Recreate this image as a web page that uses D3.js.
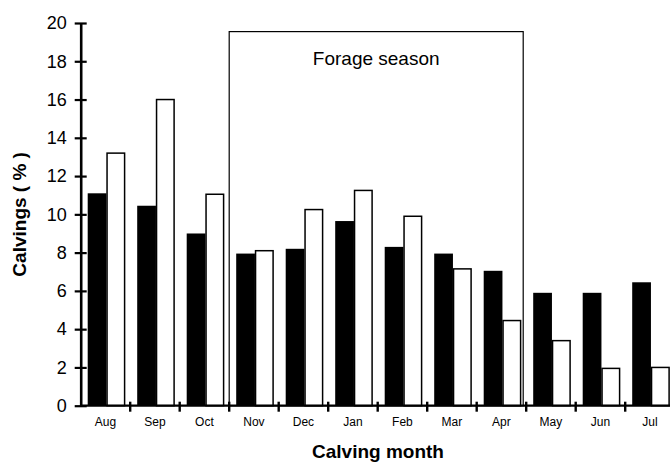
<!DOCTYPE html>
<html>
<head>
<meta charset="utf-8">
<script src="https://cdn.jsdelivr.net/npm/d3@7"></script>
<style>
  html, body { margin: 0; padding: 0; background: #fff; }
  svg { display: block; }
</style>
</head>
<body>
<svg id="chart" width="670" height="462"></svg>
<script>
const months = ["Aug","Sep","Oct","Nov","Dec","Jan","Feb","Mar","Apr","May","Jun","Jul"];
const seriesNames = ["black", "white"];
const blackValues = [11.1, 10.45, 9.0, 7.95, 8.2, 9.65, 8.3, 7.95, 7.05, 5.9, 5.9, 6.45];
const whiteValues = [13.2, 16.0, 11.05, 8.1, 10.25, 11.25, 9.9, 7.15, 4.45, 3.4, 1.95, 2.0];
const yTicks = [0, 2, 4, 6, 8, 10, 12, 14, 16, 18, 20];
const forageMonths = ["Nov", "Apr"];
const forageLabel = "Forage season";
const forageTop = 19.55;
const xTitle = "Calving month";
const yTitle = "Calvings ( % )";

const svg = d3.select("#chart");
const font = "'Liberation Sans', Arial, Helvetica, sans-serif";

const x = d3.scaleBand().domain(months).range([80.7, 674.7]).padding(0);
const xi = d3.scaleBand().domain(seriesNames).range([7, 44.5]).padding(0);
const y = d3.scaleLinear().domain([0, 20]).range([405.7, 23]);

const data = months.map((m, i) => ({ month: m, values: [
  { key: "black", v: blackValues[i] },
  { key: "white", v: whiteValues[i] }
]}));

// Forage season box
const bx0 = x(forageMonths[0]);
const bx1 = x(forageMonths[1]) + x.bandwidth() - 3;
svg.append("rect")
  .attr("x", bx0).attr("y", y(forageTop))
  .attr("width", bx1 - bx0).attr("height", y(0) - y(forageTop))
  .attr("fill", "none").attr("stroke", "#000").attr("stroke-width", 1.2);
svg.append("text")
  .attr("x", (bx0 + bx1) / 2).attr("y", 65)
  .attr("text-anchor", "middle")
  .style("font-family", font).style("font-size", "19px")
  .text(forageLabel);

// Bars
const g = svg.append("g");
const groups = g.selectAll("g.month").data(data).join("g")
  .attr("transform", d => `translate(${x(d.month)},0)`);
groups.selectAll("rect").data(d => d.values).join("rect")
  .attr("x", d => xi(d.key) + (d.key === "white" ? 0.6 : 0))
  .attr("y", d => y(d.v))
  .attr("width", d => xi.bandwidth() - (d.key === "white" ? 1.2 : 0))
  .attr("height", d => y(0) - y(d.v))
  .attr("fill", d => d.key === "black" ? "#000" : "#fff")
  .attr("stroke", d => d.key === "black" ? "none" : "#000")
  .attr("stroke-width", 1.5);

// Y axis
const yAxis = svg.append("g")
  .attr("transform", "translate(80.7,0)")
  .call(d3.axisLeft(y).tickValues(yTicks).tickSize(6).tickPadding(8).tickSizeOuter(0));
yAxis.select(".domain").attr("stroke-width", 2.6);
yAxis.selectAll(".tick line").attr("x1", 6).attr("stroke-width", 2.2);
yAxis.selectAll(".tick text")
  .style("font-family", font).style("font-size", "18px").attr("fill", "#000");

// X axis labels
const xAxis = svg.append("g")
  .attr("transform", `translate(0,${y(0)})`)
  .call(d3.axisBottom(x).tickSize(0).tickPadding(12));
xAxis.select(".domain").remove();
xAxis.selectAll(".tick text")
  .style("font-family", font).style("font-size", "12px").attr("fill", "#000");

// X axis line and boundary ticks
svg.append("line")
  .attr("x1", 80.7).attr("x2", 670)
  .attr("y1", y(0)).attr("y2", y(0))
  .attr("stroke", "#000").attr("stroke-width", 2.2);
svg.append("g").selectAll("line").data(months.slice(1)).join("line")
  .attr("x1", d => x(d)).attr("x2", d => x(d))
  .attr("y1", y(0) - 4).attr("y2", y(0) + 6)
  .attr("stroke", "#000").attr("stroke-width", 2.4);

// Axis titles
svg.append("text")
  .attr("x", 378).attr("y", 458)
  .attr("text-anchor", "middle")
  .style("font-family", font).style("font-size", "19px").style("font-weight", "bold")
  .text(xTitle);
svg.append("text")
  .attr("transform", `translate(26,${y(10)}) rotate(-90)`)
  .attr("text-anchor", "middle")
  .style("font-family", font).style("font-size", "19px").style("font-weight", "bold")
  .text(yTitle);
</script>
</body>
</html>
